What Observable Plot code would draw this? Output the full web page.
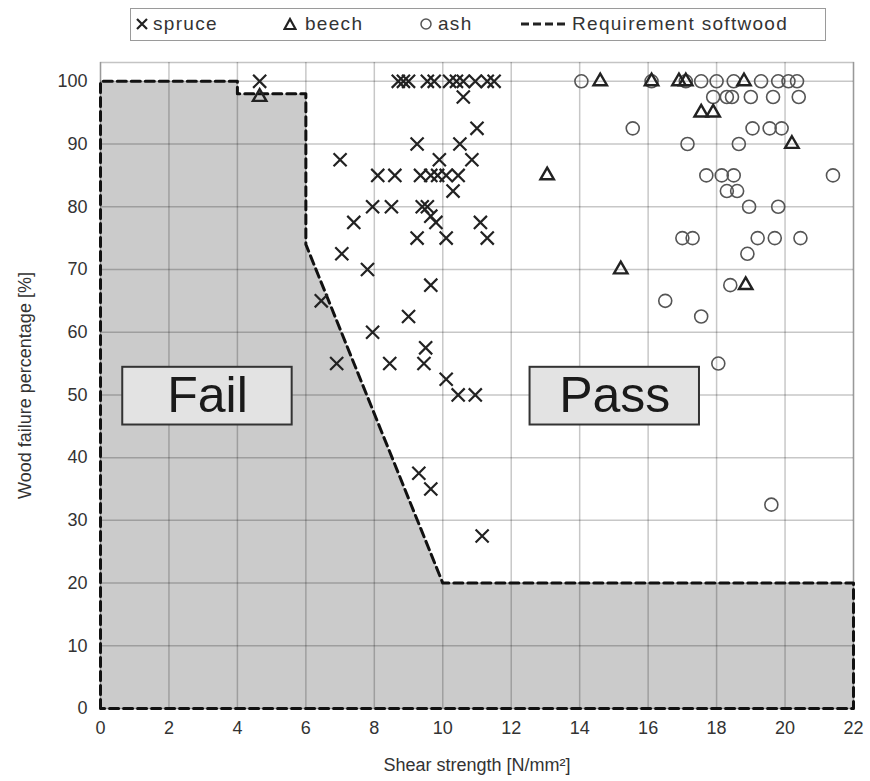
<!DOCTYPE html>
<html>
<head>
<meta charset="utf-8">
<script src="https://cdn.jsdelivr.net/npm/d3@7"></script>
<script src="https://cdn.jsdelivr.net/npm/@observablehq/plot@0.6"></script>
<style>
  body { margin: 0; background: #fff; font-family: "Liberation Sans", Arial, sans-serif; }
  #wrap { position: relative; width: 870px; height: 781px; }
  #legend { position: absolute; left: 130px; top: 8px; width: 694px; height: 31px; border: 1.5px solid #9a9a9a; background: #fff; }
  .ic { position: absolute; top: 8px; }
  .tx { position: absolute; top: 4px; font-size: 19px; letter-spacing: 1.3px; color: #333; white-space: nowrap; }
  #chart { position: absolute; left: 0; top: 50px; }
</style>
</head>
<body>
<div id="wrap">
  <div id="legend">
    <svg class="ic" style="left:4px" width="14" height="14"><path d="M2,2L12,12M12,2L2,12" stroke="#222" stroke-width="2.2"/></svg>
    <div class="tx" style="left:22px">spruce</div>
    <svg class="ic" style="left:152px" width="14" height="14"><path d="M7,2L12.5,12H1.5Z" fill="none" stroke="#222" stroke-width="2.2"/></svg>
    <div class="tx" style="left:174px">beech</div>
    <svg class="ic" style="left:288px" width="14" height="14"><circle cx="7" cy="7" r="5" fill="none" stroke="#555" stroke-width="1.5"/></svg>
    <div class="tx" style="left:307px">ash</div>
    <svg class="ic" style="left:389px" width="46" height="14"><line x1="1" y1="7" x2="45" y2="7" stroke="#222" stroke-width="3" stroke-dasharray="8,4"/></svg>
    <div class="tx" style="left:441px">Requirement softwood</div>
  </div>
  <div id="chart"></div>
</div>
<script>
const xTicks = [0, 2, 4, 6, 8, 10, 12, 14, 16, 18, 20, 22];
const yTicks = [0, 10, 20, 30, 40, 50, 60, 70, 80, 90, 100];

const spruce = [
  [4.65,100],
  [8.7,100],[8.85,100],[9.0,100],[9.55,100],[9.75,100],[10.2,100],[10.4,100],[10.6,100],[10.95,100],[11.3,100],[11.5,100],
  [10.6,97.5],[11.0,92.5],[9.25,90],[10.5,90],
  [7.0,87.5],[9.9,87.5],[10.85,87.5],
  [8.1,85],[8.6,85],[9.35,85],[9.65,85],[9.85,85],[10.1,85],[10.45,85],
  [10.3,82.5],
  [7.95,80],[8.5,80],[9.4,80],[9.55,80],
  [7.4,77.5],[9.65,78.5],[9.8,77.5],[11.1,77.5],
  [9.25,75],[10.1,75],[11.3,75],
  [7.05,72.5],[7.8,70],[9.65,67.5],[6.45,65],[9.0,62.5],[7.95,60],[9.5,57.5],
  [6.9,55],[8.45,55],[9.45,55],
  [10.1,52.5],[10.45,50],[10.95,50],
  [9.3,37.5],[9.65,35],[11.15,27.5]
];

const beech = [
  [4.65,97.5],[14.6,100],[16.1,100],[16.9,100],[17.1,100],[18.8,100],
  [17.55,95],[17.9,95],[20.2,90],[13.05,85],[15.2,70],[18.85,67.5]
];

const ash = [
  [14.05,100],[16.1,100],[17.1,100],[17.55,100],[18.0,100],[18.5,100],[19.3,100],[19.8,100],[20.1,100],[20.35,100],
  [17.9,97.5],[18.3,97.5],[18.45,97.5],[19.0,97.5],[19.65,97.5],[20.4,97.5],
  [15.55,92.5],[19.05,92.5],[19.55,92.5],[19.9,92.5],
  [17.15,90],[18.65,90],
  [17.7,85],[18.15,85],[18.5,85],[21.4,85],
  [18.3,82.5],[18.6,82.5],
  [18.95,80],[19.8,80],
  [17.0,75],[17.3,75],[19.2,75],[19.7,75],[20.45,75],
  [18.9,72.5],[18.4,67.5],[16.5,65],[17.55,62.5],[18.05,55],[19.6,32.5]
];

// Requirement softwood boundary (shear strength, wood failure %)
const requirementX = [0, 0, 4, 4, 6, 6, 10, 22, 22, 0];
const requirementY = [0, 100, 100, 98, 98, 74, 20, 20, 0, 0];

const zoneLabels = ["Fail", "Pass"];
const zoneX1 = [0.65, 12.55];
const zoneX2 = [5.6, 17.5];
const zoneY1 = [45.2, 45.2];
const zoneY2 = [54.4, 54.4];

const req = requirementX.map((x, i) => ({x, y: requirementY[i]}));
const zones = zoneLabels.map((label, i) => ({label, x1: zoneX1[i], x2: zoneX2[i], y1: zoneY1[i], y2: zoneY2[i]}));
const toObj = a => a.map(([x, y]) => ({x, y}));

const font = "Liberation Sans, Arial, sans-serif";

const chart = Plot.plot({
  width: 870,
  height: 731,
  marginLeft: 100,
  marginRight: 17,
  marginTop: 12,
  marginBottom: 73,
  style: {fontFamily: font, fontSize: "17px", color: "#333", background: "#fff"},
  x: {domain: [0, 22]},
  y: {domain: [0, 103]},
  marks: [
    Plot.line(req, {x: "x", y: "y", fill: "#cbcbcb", fillOpacity: 1, stroke: "none", curve: "linear"}),
    Plot.frame({stroke: "#c4c4c4", strokeWidth: 1.5}),
    Plot.gridX(xTicks, {stroke: "#000", strokeOpacity: 0.22, strokeWidth: 1.5}),
    Plot.gridY(yTicks, {stroke: "#000", strokeOpacity: 0.22, strokeWidth: 1.5}),
    Plot.line(req, {x: "x", y: "y", stroke: "#111", strokeWidth: 3, strokeDasharray: "9,5"}),
    Plot.rect(zones, {x1: "x1", x2: "x2", y1: "y1", y2: "y2", fill: "#e3e3e3", stroke: "#333", strokeWidth: 2}),
    Plot.text(zones, {x: d => (d.x1 + d.x2) / 2, y: d => (d.y1 + d.y2) / 2, text: "label", fontSize: 50, fill: "#1a1a1a", fontFamily: font}),
    Plot.dot(toObj(ash), {x: "x", y: "y", symbol: "circle", r: 6.5, stroke: "#555", strokeWidth: 1.6, fill: "none"}),
    Plot.dot(toObj(beech), {x: "x", y: "y", symbol: "triangle", r: 5, stroke: "#222", strokeWidth: 2.4, fill: "none"}),
    Plot.dot(toObj(spruce), {x: "x", y: "y", symbol: "times", r: 6, stroke: "#222", strokeWidth: 2.2}),
    Plot.axisX(xTicks, {tickSize: 0, tickPadding: 13, fontSize: 18, label: "Shear strength [N/mm²]", labelAnchor: "center", labelArrow: "none", labelOffset: 62}),
    Plot.axisY(yTicks, {tickSize: 0, tickPadding: 13, fontSize: 18, label: "Wood failure percentage [%]", labelAnchor: "center", labelArrow: "none", labelOffset: 82})
  ]
});
document.getElementById("chart").appendChild(chart);
</script>
</body>
</html>
